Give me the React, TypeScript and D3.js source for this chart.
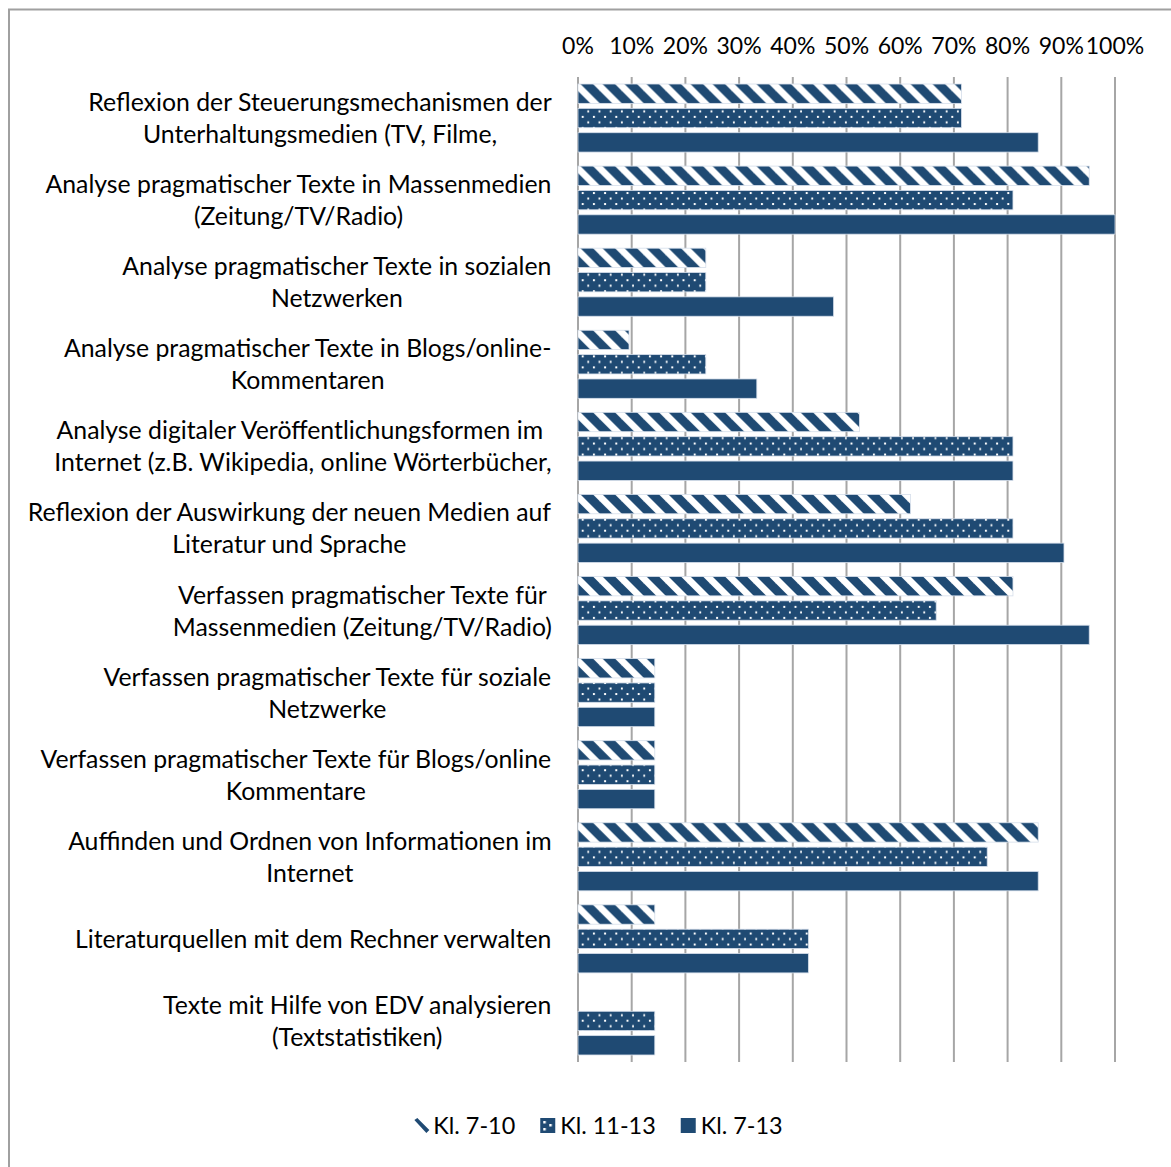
import React from "react";
import * as d3 from "d3";

const categories: string[][] = [
  ["Reflexion der Steuerungsmechanismen der", "Unterhaltungsmedien (TV, Filme,"],
  ["Analyse pragmatischer Texte in Massenmedien", "(Zeitung/TV/Radio)"],
  ["Analyse pragmatischer Texte in sozialen", "Netzwerken"],
  ["Analyse pragmatischer Texte in Blogs/online-", "Kommentaren"],
  ["Analyse digitaler Veröffentlichungsformen im ", "Internet (z.B. Wikipedia, online Wörterbücher,"],
  ["Reflexion der Auswirkung der neuen Medien auf", "Literatur und Sprache"],
  ["Verfassen pragmatischer Texte für", "Massenmedien (Zeitung/TV/Radio)"],
  ["Verfassen pragmatischer Texte für soziale", "Netzwerke"],
  ["Verfassen pragmatischer Texte für Blogs/online", "Kommentare"],
  ["Auffinden und Ordnen von Informationen im", "Internet"],
  ["Literaturquellen mit dem Rechner verwalten"],
  ["Texte mit Hilfe von EDV analysieren", "(Textstatistiken)"],
];

const seriesNames: string[] = ["Kl. 7-10", "Kl. 11-13", "Kl. 7-13"];

const kl710: number[] = [71.4, 95.2, 23.8, 9.5, 52.4, 61.9, 81.0, 14.3, 14.3, 85.7, 14.3, 0];
const kl1113: number[] = [71.4, 81.0, 23.8, 23.8, 81.0, 81.0, 66.7, 14.3, 14.3, 76.2, 42.9, 14.3];
const kl713: number[] = [85.7, 100, 47.6, 33.3, 81.0, 90.5, 95.2, 14.3, 14.3, 85.7, 42.9, 14.3];

const tickValues: number[] = [0, 10, 20, 30, 40, 50, 60, 70, 80, 90, 100];

const seriesValues = [kl710, kl1113, kl713];

const W = 1171;
const H = 1167;
const FONT = "Lato, Carlito, Calibri, sans-serif";
const FS_LABEL = 24.8;
const FS_TICK = 23;
const FS_LEGEND = 23.4;
const BLUE = "#1F4A73";
const GRID = "#A6A6A6";

let ctx: CanvasRenderingContext2D | null = null;
function measure(t: string, fs: number): number {
  if (!ctx) {
    const c = document.createElement("canvas");
    ctx = c.getContext("2d");
  }
  if (!ctx) return t.length * fs * 0.5;
  ctx.font = `${fs}px Lato`;
  return ctx.measureText(t).width;
}

export default function App() {
  const x = d3.scaleLinear().domain([0, 100]).range([578, 1115]);
  const idx = categories.map((_, i) => String(i));
  const y = d3.scaleBand().domain(idx).range([77, 1062]).paddingInner(0.11).paddingOuter(0.055);
  const ys = d3.scaleBand().domain(seriesNames).range([0, y.bandwidth()]);
  const inset = 2.5;
  const barH = ys.bandwidth() - inset * 2;

  const labelRight = 552;

  // legend layout
  const legendTextW = seriesNames.map((s) => measure(s, FS_LEGEND));
  const icon = 15;
  const iconGap = 5;
  const itemGap = 25;
  const totalW = legendTextW.reduce((a, w) => a + icon + iconGap + w, 0) + itemGap * (seriesNames.length - 1);
  let lx = 598 - totalW / 2;
  const legendItems = seriesNames.map((s, i) => {
    const item = { name: s, x: lx, i };
    lx += icon + iconGap + legendTextW[i] + itemGap;
    return item;
  });
  const legendY = 1118;

  const fillFor = (si: number, ci: number) =>
    si === 0 ? "url(#hatch)" : si === 1 ? `url(#dots-${ci})` : BLUE;

  const P = 22;
  const D = 12.5;

  return (
    <svg
      width={W}
      height={H}
      style={{ position: "absolute", left: 0, top: 0, background: "#fff" }}
      fontFamily={FONT}
    >
      <defs>
        <pattern id="hatch" patternUnits="userSpaceOnUse" x={578} y={0} width={P} height={P}>
          <rect x={0} y={0} width={P} height={P} fill="#fff" />
          <path d={`M0,0 L${D},0 L${P},${P - D} L${P},${P} Z`} fill={BLUE} />
          <path d={`M0,${P - D} L${D},${P} L0,${P} Z`} fill={BLUE} />
        </pattern>
        {categories.map((_, ci) => {
          const top = (y(String(ci)) ?? 0) + (ys(seriesNames[1]) ?? 0) + inset;
          return (
            <pattern
              key={ci}
              id={`dots-${ci}`}
              patternUnits="userSpaceOnUse"
              x={578}
              y={top}
              width={11.2}
              height={11}
            >
              <rect x={0} y={0} width={11.2} height={11} fill={BLUE} />
              <rect x={3.7} y={3} width={2} height={2} fill="#fff" />
              <rect x={9.3} y={8.5} width={2} height={2} fill="#fff" />
            </pattern>
          );
        })}
        <pattern id="dotsLegend" patternUnits="userSpaceOnUse" x={legendItems[1].x} y={legendY} width={15} height={15}>
          <rect x={0} y={0} width={15} height={15} fill={BLUE} />
          <rect x={3} y={3} width={2.5} height={2.5} fill="#fff" />
          <rect x={9} y={6} width={2.5} height={2.5} fill="#fff" />
          <rect x={3} y={10} width={2.5} height={2.5} fill="#fff" />
        </pattern>
      </defs>

      {/* chart border */}
      <rect x={9} y={9.5} width={1300} height={1300} fill="none" stroke="#A0A0A0" strokeWidth={2} />

      {/* gridlines */}
      {tickValues.map((t) => (
        <line key={t} x1={x(t)} x2={x(t)} y1={77} y2={1062} stroke={GRID} strokeWidth={2} />
      ))}

      {/* tick labels */}
      {tickValues.map((t) => (
        <text key={t} x={x(t)} y={54} textAnchor="middle" fontSize={FS_TICK} fill="#000">
          {t}%
        </text>
      ))}

      {/* bars */}
      {categories.map((_, ci) => (
        <g key={ci} transform={`translate(0,${y(String(ci))})`}>
          {seriesNames.map((s, si) => {
            const v = seriesValues[si][ci];
            if (v <= 0) return null;
            return (
              <rect
                key={s}
                x={x(0)}
                y={(ys(s) ?? 0) + inset}
                width={x(v) - x(0)}
                height={barH}
                fill={fillFor(si, ci)}
                stroke="#D5DEEA"
                strokeWidth={0.8}
              />
            );
          })}
        </g>
      ))}

      {/* category labels */}
      {categories.map((lines, ci) => {
        const bandCenter = (y(String(ci)) ?? 0) + y.bandwidth() / 2;
        const maxW = Math.max(...lines.map((l) => measure(l, FS_LABEL)));
        const cx = labelRight - maxW / 2;
        const first = bandCenter + 9 - 16 * (lines.length - 1);
        return (
          <text key={ci} x={cx} textAnchor="middle" fontSize={FS_LABEL} fill="#000" style={{ whiteSpace: "pre" }}>
            {lines.map((l, li) => (
              <tspan key={li} x={cx} y={first + li * 32}>
                {l}
              </tspan>
            ))}
          </text>
        );
      })}

      {/* legend */}
      {legendItems.map((it) => (
        <g key={it.name}>
          {it.i === 0 ? (
            <path
              d={`M${it.x + 1},${legendY + 2} L${it.x + 4},${legendY} L${it.x + 16},${legendY + 12} L${it.x + 13},${legendY + 15} Z`}
              fill={BLUE}
            />
          ) : (
            <rect
              x={it.x}
              y={legendY}
              width={icon}
              height={icon}
              fill={it.i === 1 ? "url(#dotsLegend)" : BLUE}
            />
          )}
          <text x={it.x + icon + iconGap} y={legendY + 16} fontSize={FS_LEGEND} fill="#000">
            {it.name}
          </text>
        </g>
      ))}
    </svg>
  );
}
